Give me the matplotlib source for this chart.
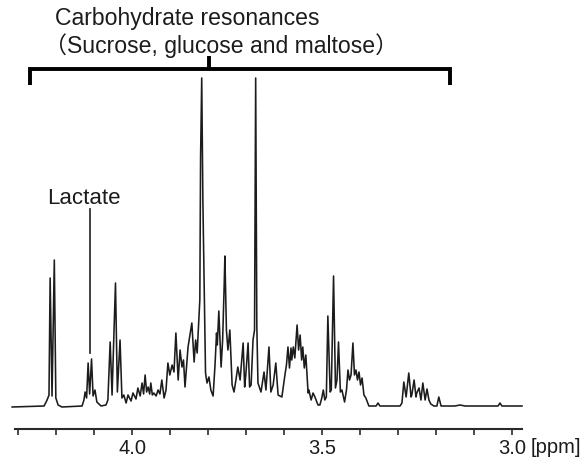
import numpy as np
import matplotlib
matplotlib.use('Agg')
import matplotlib.pyplot as plt

# 1H NMR trace (chemical shift in ppm, intensity in a.u.)
shift_ppm = [4.316, 4.232, 4.224, 4.219, 4.216, 4.211, 4.205, 4.201, 4.195, 4.185,
             4.132, 4.127, 4.124, 4.120, 4.116, 4.112, 4.107, 4.103, 4.098, 4.093,
             4.082, 4.069, 4.064, 4.058, 4.053, 4.044, 4.039, 4.032, 4.027, 4.022,
             4.016, 4.011, 4.003, 3.998, 3.990, 3.985, 3.979, 3.974, 3.970, 3.966,
             3.962, 3.958, 3.954, 3.951, 3.947, 3.943, 3.937, 3.932, 3.927, 3.922,
             3.916, 3.911, 3.906, 3.901, 3.895, 3.890, 3.885, 3.879, 3.874, 3.869,
             3.865, 3.861, 3.853, 3.848, 3.843, 3.837, 3.833, 3.829, 3.826, 3.822,
             3.820, 3.817, 3.814, 3.812, 3.807, 3.803, 3.798, 3.793, 3.787, 3.782,
             3.778, 3.776, 3.772, 3.766, 3.762, 3.758, 3.756, 3.752, 3.748, 3.743,
             3.737, 3.732, 3.727, 3.722, 3.716, 3.708, 3.704, 3.701, 3.695, 3.691,
             3.687, 3.682, 3.678, 3.675, 3.672, 3.669, 3.661, 3.653, 3.648, 3.640,
             3.635, 3.629, 3.622, 3.616, 3.606, 3.598, 3.594, 3.590, 3.586, 3.582,
             3.580, 3.576, 3.572, 3.566, 3.562, 3.558, 3.554, 3.551, 3.547, 3.543,
             3.537, 3.535, 3.529, 3.524, 3.519, 3.511, 3.506, 3.501, 3.497, 3.493,
             3.489, 3.485, 3.479, 3.476, 3.470, 3.465, 3.461, 3.457, 3.452, 3.448,
             3.441, 3.436, 3.432, 3.428, 3.424, 3.419, 3.415, 3.411, 3.407, 3.403,
             3.399, 3.395, 3.390, 3.385, 3.377, 3.358, 3.353, 3.348, 3.295, 3.290,
             3.285, 3.279, 3.272, 3.266, 3.264, 3.258, 3.253, 3.251, 3.245, 3.240,
             3.235, 3.229, 3.224, 3.219, 3.214, 3.206, 3.198, 3.193, 3.187, 3.151,
             3.137, 3.124, 3.037, 3.032, 3.027, 2.974]
intensity = [0, 1, 7, 12, 129, 11, 147, 9, 2, 0,
             1, 7, 15, 9, 44, 13, 48, 11, 17, 5,
             1, 2, 7, 65, 12, 124, 15, 67, 9, 12,
             4, 12, 6, 14, 8, 19, 11, 24, 13, 32,
             15, 20, 13, 24, 12, 14, 11, 17, 13, 27,
             9, 17, 44, 32, 42, 35, 74, 27, 57, 40,
             47, 20, 60, 72, 84, 45, 67, 54, 77, 107,
             250, 329, 207, 157, 34, 24, 30, 17, 11, 42,
             74, 62, 96, 40, 67, 120, 151, 77, 57, 77,
             22, 15, 27, 40, 27, 64, 20, 32, 64, 20,
             22, 67, 77, 329, 82, 24, 15, 35, 17, 60,
             15, 22, 44, 12, 10, 32, 42, 60, 39, 59,
             47, 60, 49, 82, 57, 72, 47, 60, 39, 52,
             14, 17, 7, 14, 10, 2, 2, 9, 17, 7,
             10, 91, 15, 17, 131, 19, 27, 65, 15, 17,
             5, 17, 37, 27, 32, 64, 32, 37, 27, 35,
             22, 29, 12, 9, 1, 1, 4, 1, 1, 4,
             25, 10, 34, 10, 12, 27, 10, 14, 19, 7,
             24, 7, 18, 7, 3, 1, 1, 10, 1, 1,
             2, 1, 1, 4, 1, 1]

tick_pos = [4.3, 4.2, 4.1, 4.0, 3.9, 3.8, 3.7, 3.6, 3.5, 3.4, 3.3, 3.2, 3.1, 3.0]
tick_text = ['', '', '', '4.0', '', '', '', '', '3.5', '', '', '', '', '3.0']

carb_title = 'Carbohydrate resonances'
carb_sub = '\uff08Sucrose, glucose and maltose\uff09'
carb_range = (4.270, 3.164)
lactate_ppm = 4.111

fonts = ['Liberation Sans', 'Noto Sans CJK JP', 'DejaVu Sans']
plt.rcParams['font.family'] = fonts
ink = '#1c1c1c'

fig = plt.figure(figsize=(5.8, 4.61), dpi=100)
ax = fig.add_axes([14.8/580, 32/461, (522-14.8)/580, 429/461])
ax.plot(shift_ppm, intensity, color=ink, lw=1.15, clip_on=False)

ax.set_xlim(4.309, 2.974)
ax.set_ylim(-22, 407)
for s in ['top', 'right', 'left']:
    ax.spines[s].set_visible(False)
ax.spines['bottom'].set_linewidth(1.5)
ax.spines['bottom'].set_color('#2a2a2a')
ax.set_yticks([])
ax.set_xticks(tick_pos)
ax.set_xticklabels(tick_text)
ax.tick_params(axis='x', direction='out', length=4.5, width=1.2, color='#2a2a2a',
               labelsize=14.5, labelcolor=ink, pad=3)
ax.text(2.951, -0.021, '[ppm]', transform=ax.get_xaxis_transform(),
        ha='left', va='top', fontsize=14.5, color=ink)

# carbohydrate bracket
y_br, y_end, y_top = 337.5, 322, 351
ax.plot([carb_range[0], carb_range[0], carb_range[1], carb_range[1]],
        [y_end, y_br, y_br, y_end], color='black', lw=2.8, solid_capstyle='butt',
        solid_joinstyle='miter', clip_on=False)
ax.plot([3.798, 3.798], [y_br, y_top], color='black', lw=2.8,
        solid_capstyle='butt', clip_on=False)
ax.text(4.203, 381.5, carb_title, fontsize=16.6, color=ink, va='baseline', ha='left')
ax.text(4.233, 354, carb_sub, fontsize=16.6, color=ink, va='baseline', ha='left')

# lactate label
ax.plot([lactate_ppm, lactate_ppm], [54, 198], color='#333333', lw=1.3)
ax.text(4.225, 203, 'Lactate', fontsize=16, color=ink, va='baseline', ha='left')

plt.savefig('out.png', dpi=100)
